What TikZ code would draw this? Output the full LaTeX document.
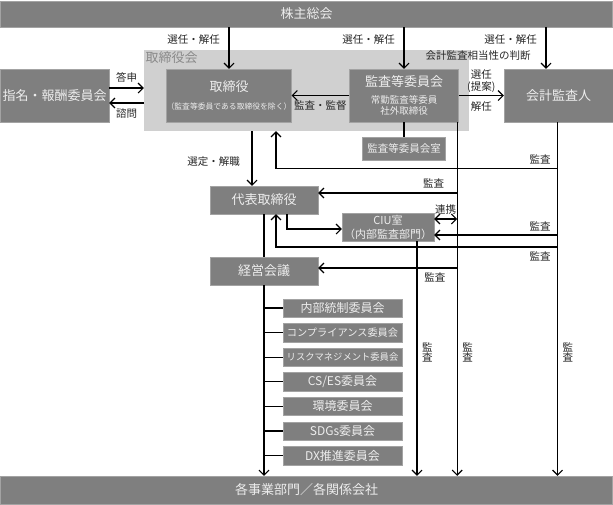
\documentclass[tikz,border=0pt]{standalone}
\usepackage{fontspec}
\setmainfont{Noto Sans CJK JP}
\usepackage{tikz}
\usetikzlibrary{arrows.meta, positioning, calc}
\definecolor{boxgray}{HTML}{7F7F7F}
\definecolor{boxline}{HTML}{A3A3A3}
\definecolor{boxtext}{HTML}{EDEDED}
\definecolor{frameback}{HTML}{D0D0D0}
\definecolor{frametext}{HTML}{8A8A8A}
\newcommand{\smalljp}{\fontsize{9.5}{11}\selectfont}
\newcommand{\tinyjp}{\fontsize{7.8}{9}\selectfont}
\tikzset{box/.style={rectangle,draw=boxline,fill=boxgray,text=boxtext,align=center,inner sep=0pt,font=\fontsize{13}{15}\selectfont},
         bar/.style={box,minimum width=612pt},
         bigbox/.style={box,minimum height=53pt},
         midbox/.style={box,minimum width=108pt,minimum height=28pt},
         committee/.style={box,minimum width=119pt,minimum height=18.5pt,font=\fontsize{12}{14}\selectfont},
         boardframe/.style={rectangle,fill=frameback,inner sep=0pt},
         lbl/.style={font=\fontsize{10.5}{12}\selectfont,inner sep=1.5pt,text=black!85},
         vlbl/.style={lbl,align=center,font=\fontsize{10.5}{10.5}\selectfont},
         arrow/.style={-{Straight Barb[length=5pt,width=10pt]},line width=1.1pt},
         twoway/.style={{Straight Barb[length=5pt,width=10pt]}-{Straight Barb[length=5pt,width=10pt]},line width=1.1pt},
         link/.style={line width=1.1pt}}

\begin{document}
\begin{tikzpicture}[x=1pt,y=-1pt]
  \useasboundingbox (0,0) rectangle (613,504);
  % bars
  \node (gm) [bar, minimum height=26pt] at (306.5,14) {株主総会};
  \node (ops) [bar, minimum height=28pt] at (306.5,490) {各事業部門／各関係会社};
  % board
  \node (board) [boardframe, minimum width=325pt, minimum height=81pt] at (306.5,90.5) {};
  \node (boardname) [anchor=north west, inner sep=1.5pt, text=frametext, font=\fontsize{13}{15}\selectfont] at (board.north west) {取締役会};
  \node (dir) [bigbox, minimum width=124pt] at (229,95.5) {取締役\\[3pt]\tinyjp （監査等委員である取締役を除く）};
  \node (ac) [bigbox, minimum width=109pt] at (404,95.5) {監査等委員会\\[2pt]\smalljp 常勤監査等委員\\[-4pt]\smalljp 社外取締役};
  \node (acoff) [box, minimum width=83pt, minimum height=23pt, font=\fontsize{10.5}{12}\selectfont] at (404,148.5) {監査等委員会室};
  \node (auditor) [bigbox, minimum width=109pt] at (558.5,95.5) {会計監査人};
  \node (nom) [bigbox, minimum width=109pt] at (54.5,95.5) {指名・報酬委員会};
  \node (judge) [lbl] at (478,56) {会計監査相当性の判断};
  % executive side
  \node (rep) [midbox] at (264,200) {代表取締役};
  \node (ciu) [box, minimum width=92pt, minimum height=28pt, font=\fontsize{11}{12}\selectfont] at (388,227) {CIU室\\[2pt]（内部監査部門）};
  \node (mgmt) [midbox] at (264,271) {経営会議};
  % committees
  \node (c1) [committee] at (342.5,308) {内部統制委員会};
  \node (c2) [committee, below=5.7pt of c1, font=\fontsize{10.2}{12}\selectfont] {コンプライアンス委員会};
  \node (c3) [committee, below=5.7pt of c2, font=\fontsize{9.3}{12}\selectfont] {リスクマネジメント委員会};
  \node (c4) [committee, below=5.7pt of c3] {CS/ES委員会};
  \node (c5) [committee, below=5.7pt of c4] {環境委員会};
  \node (c6) [committee, below=5.7pt of c5] {SDGs委員会};
  \node (c7) [committee, below=5.7pt of c6] {DX推進委員会};

  \coordinate (audtop) at ([xshift=-12.5pt]auditor.north);
  \coordinate (acdrop) at ([xshift=-1.5pt]ac.south east);
  \coordinate (auddrop) at ([xshift=-1pt]auditor.south);
  \coordinate (row1) at ([yshift=17pt]rep.north);
  \coordinate (row2) at ([yshift=-20pt]ciu.center);

  % shareholders' meeting
  \draw[arrow] (gm.south -| dir.north) -- node[lbl, left=7pt, pos=0.3] {選任・解任} (dir.north);
  \draw[arrow] (gm.south -| ac.north) -- node[lbl, left=7pt, pos=0.3] {選任・解任} (ac.north);
  \draw[arrow] (gm.south -| audtop) -- node[lbl, left=7pt, pos=0.3] {選任・解任} (audtop);
  % around the board
  \draw[arrow] ([yshift=7.5pt]nom.east) -- node[lbl, above=4pt] {答申} ([yshift=7.5pt]nom.east -| board.west);
  \draw[arrow] ([yshift=-7.5pt]nom.east -| board.west) -- node[lbl, below=4pt] {諮問} ([yshift=-7.5pt]nom.east);
  \draw[arrow] (ac.west) -- node[lbl, below=3pt] {監査・監督} (dir.east);
  \draw[arrow] (ac.east) -- node[lbl, above=1pt, align=center] {選任\\(提案)} node[lbl, below=4pt] {解任} (auditor.west);
  \draw[link] (ac.south) -- (ac.south |- acoff.north);
  \draw[arrow] ([xshift=-12pt]rep.north |- board.south) -- node[lbl, left=10pt, pos=0.56] {選定・解職} ([xshift=-12pt]rep.north);
  % audit lines
  \draw[arrow] (acdrop) -- node[vlbl, right=3pt, pos=0.651] {監\\査} (acdrop |- ops.north);
  \draw[arrow] (auddrop) -- node[vlbl, right=3pt, pos=0.651] {監\\査} (auddrop |- ops.north);
  \draw[arrow] (auddrop |- row1) -| node[lbl, above=3pt, pos=0.031] {監査} ([xshift=12pt]rep.north |- board.south);
  \draw[arrow] ([yshift=7pt]rep.east -| acdrop) -- node[lbl, above=3pt, pos=0.17] {監査} ([yshift=7pt]rep.east);
  \draw[twoway] ([yshift=8pt]ciu.east) -- node[lbl, above=3pt] {連携} ([yshift=8pt]ciu.east -| acdrop);
  \draw[arrow] ([yshift=-8pt]ciu.east -| auddrop) -- node[lbl, above=2pt, pos=0.14] {監査} ([yshift=-8pt]ciu.east);
  \draw[arrow] (auddrop |- row2) -| node[lbl, below=3pt, pos=0.031] {監査} ([xshift=12pt]rep.south);
  \draw[arrow] ([yshift=3pt]mgmt.east -| acdrop) -- node[lbl, below=3pt, pos=0.16] {監査} ([yshift=3pt]mgmt.east);
  % executive lines
  \draw[arrow] ([xshift=23pt]rep.south) |- ([yshift=-2pt]ciu.west);
  \draw[link] (rep) -- (mgmt);
  \draw[arrow] ([xshift=29pt]ciu.south) -- node[vlbl, right=3pt, pos=0.474] {監\\査} ([xshift=29pt]ciu.south |- ops.north);
  \draw[arrow] (mgmt.south) -- (mgmt.south |- ops.north);
  \foreach \c in {c1,c2,c3,c4,c5,c6,c7} {\draw[link] (mgmt.south |- \c.west) -- (\c.west);}
\end{tikzpicture}
\end{document}
